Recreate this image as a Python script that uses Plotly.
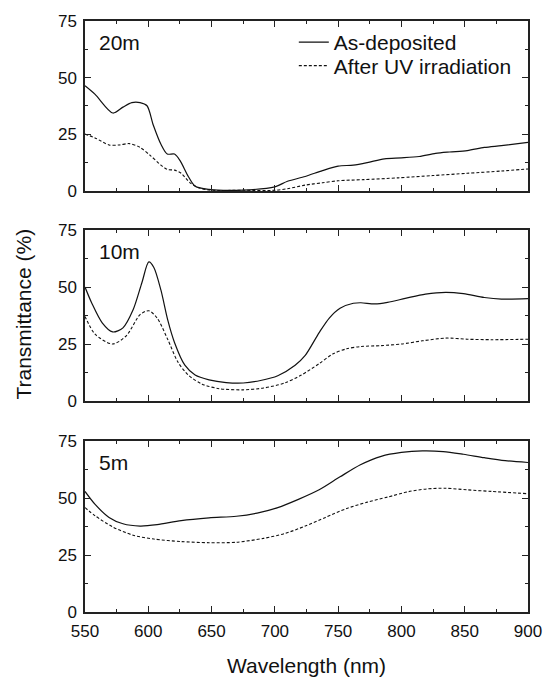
import plotly.graph_objects as go

# ---- data ----
wl_20_solid = [550, 558, 572, 580, 587, 593.5, 599, 604, 610, 615, 620.7, 625, 631.6, 637, 648, 675, 700, 710, 724, 737.6, 750, 762, 773, 786.6, 800, 814, 827, 838, 852, 865.5, 879, 900]
t_20_solid = [46.4, 42.6, 34.4, 37, 39, 39, 37.6, 29, 20.6, 16.3, 16.3, 13.5, 6.4, 2.1, 0.7, 0.4, 1.8, 4.3, 6.4, 9, 11, 11.4, 12.5, 14.2, 14.6, 15.2, 16.6, 17.2, 17.8, 19.2, 20, 21.4]
wl_20_dash = [550, 558, 569, 577, 585, 593.5, 601.7, 610, 615, 620.7, 626, 633, 640, 648, 675, 700, 710, 724, 737.6, 750, 770, 797.5, 824.7, 852, 879, 900]
t_20_dash = [25.1, 23.4, 20.3, 20.3, 20.9, 19.2, 15.6, 11.4, 9.5, 9.2, 7.8, 3.6, 1.4, 0.4, 0.3, 0.3, 1, 2.6, 3.6, 4.5, 5, 5.8, 6.8, 7.8, 8.8, 9.7]

wl_10_solid = [550, 555.4, 563.6, 571.8, 580, 588, 595, 600.4, 604.4, 610, 615.3, 620.7, 628.9, 637, 648, 661.5, 675, 688.7, 702.3, 716, 724, 735, 743, 751.5, 762, 768, 779, 789, 803, 819, 835, 849, 865.5, 879, 900]
t_10_solid = [50, 42.9, 34.3, 30.3, 32.1, 40, 52, 61, 58.6, 48.6, 35.7, 25.7, 15.7, 11.4, 9.3, 8.1, 7.9, 9, 11.1, 15.7, 20, 30, 36.4, 40.7, 42.9, 43.1, 42.6, 43.3, 45, 46.9, 47.7, 47.1, 45.4, 44.7, 44.9]
wl_10_dash = [550, 558, 571.8, 582.6, 593.5, 600.4, 607, 615.3, 623.4, 631.6, 642.5, 656, 675, 691, 707.7, 721, 735, 746, 756.7, 768, 784, 800, 816.6, 835, 852, 871, 900]
t_10_dash = [37.1, 29.3, 25, 28.6, 37.9, 39.6, 36.4, 27.1, 17.1, 11.4, 7.4, 5.4, 4.9, 5.7, 7.9, 11.4, 16.4, 20.7, 22.9, 23.9, 24.3, 25, 26.4, 27.6, 27.1, 26.9, 27.1]

wl_5_solid = [550, 558, 569, 580, 593.5, 607, 626, 648, 669.6, 686, 702.3, 718.6, 735, 751.5, 767.6, 784, 800, 816.6, 833, 849, 865.5, 882, 900]
t_5_solid = [52.9, 47.2, 41.5, 38.7, 37.7, 38.3, 40.1, 41.3, 42, 43.4, 45.8, 49.4, 53.6, 59.3, 64.6, 68.3, 70.0, 70.7, 70.4, 69.2, 67.7, 66.4, 65.6]
wl_5_dash = [550, 558, 572, 588, 604.4, 626, 648, 669.6, 691, 707.7, 724, 740, 756.7, 773, 789, 805.6, 820, 835, 852, 871, 900]
t_5_dash = [45.8, 42.2, 37.3, 33.7, 32, 30.9, 30.4, 30.6, 32.3, 34.4, 37.7, 41.5, 45.4, 48.2, 50.4, 52.8, 54.0, 54.3, 53.6, 52.9, 51.9]

panel_labels = ["20m", "10m", "5m"]
series_names = ["As-deposited", "After UV irradiation"]
x_range = [550, 900]
y_range = [0, 75]

panels = [
    (wl_20_solid, t_20_solid, wl_20_dash, t_20_dash),
    (wl_10_solid, t_10_solid, wl_10_dash, t_10_dash),
    (wl_5_solid, t_5_solid, wl_5_dash, t_5_dash),
]

W, H = 554, 686
mt, mb, ml, mr = 21, 60, 85, 15
ph = H - mt - mb
pw = W - ml - mr
domains = []
for top_px, bot_px in [(21, 195), (235, 410), (451, 626)]:
    domains.append([1 - (bot_px - mt) / ph, 1 - (top_px - mt) / ph])

FONT = "Liberation Sans, Arial, sans-serif"
AX = "#222222"
TK = "#222222"

fig = go.Figure()
for i, (xs, ys, xd, yd) in enumerate(panels):
    n = i + 1
    xa = "x" if n == 1 else f"x{n}"
    ya = "y" if n == 1 else f"y{n}"
    fig.add_trace(go.Scatter(x=xs, y=ys, mode="lines", line=dict(color="#111111", width=1.2, shape="spline", smoothing=0.8),
                             name=series_names[0], showlegend=(n == 1), legend="legend", xaxis=xa, yaxis=ya))
    fig.add_trace(go.Scatter(x=xd, y=yd, mode="lines", line=dict(color="#111111", width=1.1, dash="3px,2px", shape="spline", smoothing=0.8),
                             name=series_names[1], showlegend=(n == 1), legend="legend2", xaxis=xa, yaxis=ya))

leg_x = (299 - ml) / pw
fig.update_layout(
    width=W, height=H,
    margin=dict(l=ml, r=mr, t=mt, b=mb),
    paper_bgcolor="white", plot_bgcolor="white",
    font=dict(family=FONT, size=17, color="#111111"),
    showlegend=True,
    legend=dict(x=leg_x, y=1 - (43 - mt) / ph, xanchor="left", yanchor="middle",
                bgcolor="rgba(0,0,0,0)", font=dict(size=21, family=FONT)),
    legend2=dict(x=leg_x, y=1 - (67 - mt) / ph, xanchor="left", yanchor="middle",
                 bgcolor="rgba(0,0,0,0)", font=dict(size=21, family=FONT)),
)

for i in range(3):
    n = i + 1
    xkey = "xaxis" if n == 1 else f"xaxis{n}"
    ykey = "yaxis" if n == 1 else f"yaxis{n}"
    fig.layout[xkey] = dict(
        domain=[0, 1], anchor="y" if n == 1 else f"y{n}",
        range=x_range, tickmode="linear", tick0=550, dtick=50, showticklabels=(n == 3),
        ticks="inside", ticklen=6, tickwidth=1.4, tickcolor=TK,
        minor=dict(ticks="inside", ticklen=3.5, tickwidth=1.3, tickcolor=TK, dtick=25, tick0=550, showgrid=False),
        showline=True, linecolor=AX, linewidth=1.5, mirror="allticks", showgrid=False, zeroline=False,
        tickfont=dict(size=17), ticklabelstandoff=3, layer="above traces",
    )
    fig.layout[ykey] = dict(
        domain=domains[i], anchor="x" if n == 1 else f"x{n}",
        range=y_range, tickmode="linear", tick0=0, dtick=25,
        ticks="inside", ticklen=6, tickwidth=1.4, tickcolor=TK,
        minor=dict(ticks="inside", ticklen=3.5, tickwidth=1.3, tickcolor=TK, dtick=12.5, tick0=0, showgrid=False),
        showline=True, linecolor=AX, linewidth=1.5, mirror="allticks", showgrid=False, zeroline=False,
        tickfont=dict(size=17), ticklabelstandoff=3, layer="above traces",
    )
fig.layout.xaxis3.title = dict(text="Wavelength (nm)", font=dict(size=21), standoff=18)

annotations = []
for i, lab in enumerate(panel_labels):
    n = i + 1
    annotations.append(dict(text=lab, xref="x" if n == 1 else f"x{n}", yref=("y" if n == 1 else f"y{n}") + " domain",
                            x=559.5, y=1 - 22 / 175, xanchor="left", yanchor="middle", showarrow=False, font=dict(size=21)))
annotations.append(dict(text="Transmittance (%)", xref="paper", yref="paper", x=-(ml - 22) / pw,
                        y=1 - (321 - mt) / ph, xanchor="center", yanchor="middle", textangle=-90, showarrow=False,
                        font=dict(size=21)))
fig.update_layout(annotations=annotations)

fig.write_html("out.html")
